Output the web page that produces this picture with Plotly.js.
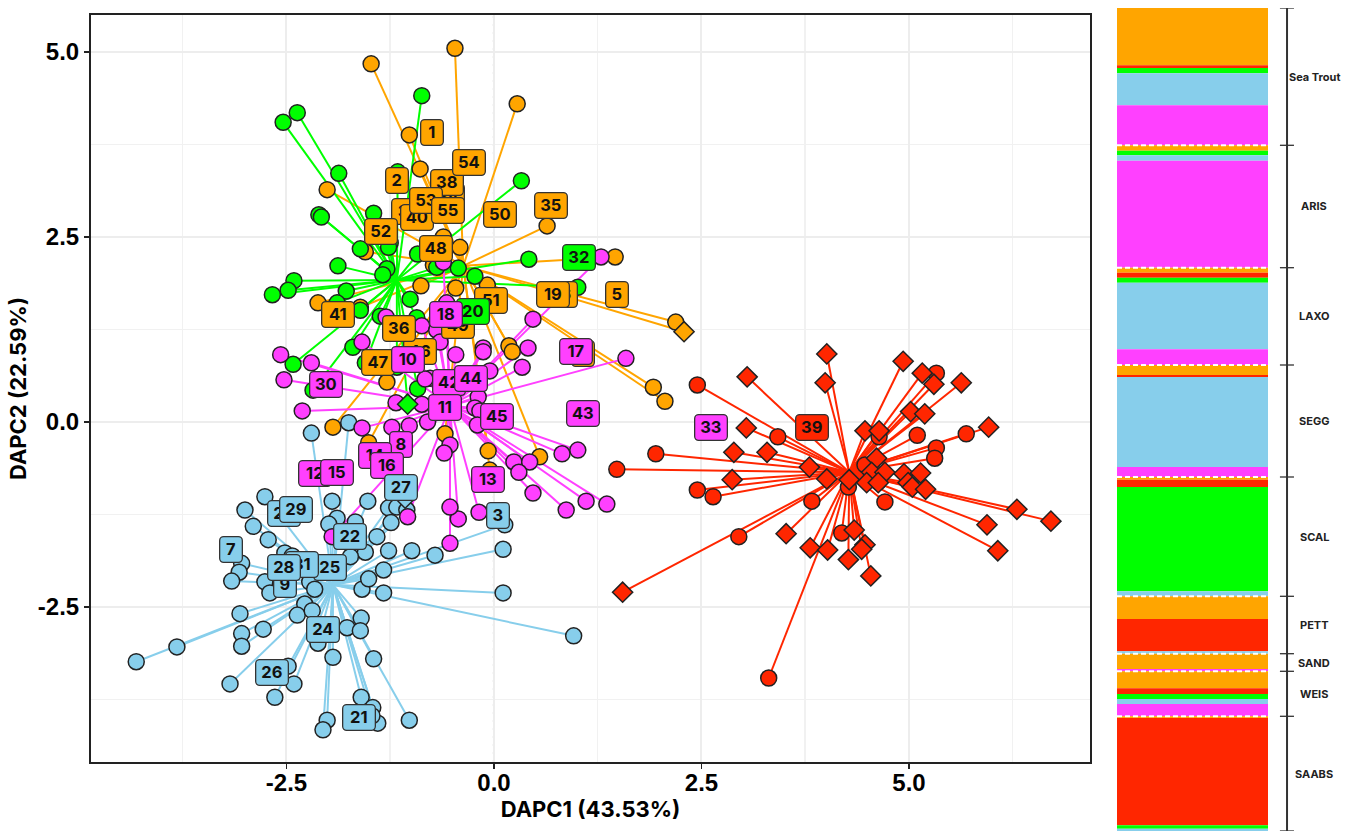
<!DOCTYPE html>
<html><head><meta charset="utf-8">
<script src="https://cdn.plot.ly/plotly-3.0.1.min.js"></script>
<style>html,body{margin:0;padding:0;background:#fff}#c{width:1354px;height:832px}</style>
</head><body><div id="c"></div>
<script>
const COLORS = {orange:'#FFA500', green:'#00FF00', blue:'#87CEEB', magenta:'#FF40FF', red:'#FF2600'};

// Cluster centroids
const orangeCentroid=[-0.37,2.11], greenCentroid=[-1.17,1.92], blueCentroid=[-1.94,-2.20], magentaCentroid=[-0.53,0.22], redCentroid=[4.28,-0.68];

// Individuals (circles)
const orangeX=[-1.48,-0.47,0.28,-1.02,-0.89,-2.01,0.64,1.46,-0.41,-1.55,-0.73,-0.88,-0.46,-0.08,-2.12,-1.61,0.18,0.22,-1.29,-1.94,-0.59,-1.51,-0.07,0.55,-0.05,1.92,2.06,2.19,-0.61];
const orangeY=[4.84,5.05,4.30,3.88,3.42,3.14,2.65,2.23,2.36,2.30,2.12,1.84,1.81,1.85,1.61,1.55,1.03,0.95,0.54,-0.07,-0.16,-0.28,-0.39,-0.47,-0.65,0.47,0.28,1.35,2.50];
const greenX=[-0.87,-2.37,-2.54,-1.87,0.33,-1.16,-1.45,-2.11,-2.08,-1.61,-1.25,-1.27,-0.92,-1.88,-1.29,-1.34,-0.43,-0.69,-0.23,0.42,1.01,-2.41,-2.48,-2.67,-1.78,-1.01,-2.42,-1.37,-0.93,-1.89,-1.70,-1.55,-0.92,-1.17,-2.18,-1.61];
const greenY=[4.41,4.18,4.05,3.36,3.26,3.38,2.82,2.80,2.77,2.34,2.42,2.36,2.27,2.11,2.07,1.99,2.08,2.09,1.97,2.20,1.82,1.91,1.78,1.72,1.77,1.66,0.78,1.43,1.41,1.61,1.01,0.80,0.45,0.74,0.43,1.51];
const blueX=[-4.31,-3.82,-2.76,-3.00,-2.90,-2.72,-3.04,-3.07,-3.16,-2.76,-2.70,-3.06,-3.04,-3.04,-2.78,-3.18,-2.64,-2.41,-2.48,-2.28,-2.37,-2.19,-2.22,-2.16,-2.12,-1.94,-1.77,-1.60,-1.61,-1.45,-1.60,-1.46,-1.40,-1.47,-2.01,-2.06,-1.02,-1.59,-1.51,-1.33,-1.33,-1.27,-0.99,-0.71,-1.41,-1.55,-1.73,-1.52,-1.27,-1.24,-1.95,-1.89,-1.99,-1.67,-1.17,-1.05,0.11,0.11,0.96,0.13,-2.20,-1.75,-2.52,-2.43];
const blueY=[-3.24,-3.04,-1.01,-1.19,-1.41,-1.59,-1.91,-2.03,-2.15,-2.16,-2.31,-2.59,-2.86,-3.03,-2.80,-3.54,-3.72,-3.54,-3.30,-2.46,-2.61,-2.55,-2.16,-2.26,-2.99,-3.18,-2.78,-2.65,-2.82,-3.20,-3.72,-3.86,-4.07,-3.97,-4.03,-4.16,-4.03,-2.26,-2.12,-2.00,-2.31,-1.74,-1.74,-1.80,-1.55,-1.76,-1.82,-1.07,-1.16,-1.36,-1.07,-1.30,-1.38,-1.35,-1.15,-1.19,-1.72,-2.31,-2.89,-1.39,-0.15,-0.01,-1.77,-1.81];
const magentaX=[1.59,0.47,1.29,-0.57,-2.57,-2.20,-2.53,-2.31,-1.59,-1.30,-0.87,-0.69,-0.65,-0.46,-0.13,-0.13,0.41,0.34,-0.05,-0.77,-0.83,-1.18,-0.87,-0.19,-0.23,-0.17,-0.20,-0.80,-1.59,-1.23,-1.02,-0.53,-0.60,0.82,1.01,0.24,0.43,0.30,0.47,1.11,1.36,0.87,-0.18,-0.43,-0.53,-1.04,-0.53,-1.95,-0.61];
const magentaY=[0.86,1.39,2.23,1.61,0.91,0.80,0.57,0.15,1.08,1.42,1.30,1.24,1.08,0.91,1.00,0.95,1.00,0.74,0.69,0.59,0.58,0.26,0.24,0.34,0.19,0.15,-0.04,0.00,-0.08,-0.07,-0.05,-0.31,-0.42,-0.43,-0.38,-0.54,-0.54,-0.68,-0.96,-1.07,-1.11,-1.19,-1.22,-1.31,-1.15,-1.28,-1.64,-1.55,2.16];
const redX=[2.45,1.95,1.48,2.45,2.64,2.95,3.31,3.42,3.83,4.19,4.27,4.64,4.47,4.71,5.10,5.33,5.31,5.69,5.33,4.63];
const redY=[0.50,-0.43,-0.64,-0.92,-1.01,-1.55,-3.46,-0.20,-1.07,-1.50,-0.88,-0.20,-0.58,-1.08,-0.18,-0.35,-0.49,-0.16,0.66,-0.81];

// Individuals (diamonds)
const redDiamondX=[4.01,3.05,3.99,4.93,5.16,5.30,5.63,5.02,5.19,5.96,3.04,2.89,3.29,2.87,3.80,4.01,4.28,4.47,4.64,4.61,4.55,4.71,4.49,4.63,4.94,5.14,4.99,5.04,5.20,6.30,6.71,5.94,6.07,3.52,3.81,4.02,4.27,4.34,4.47,4.43,4.54,1.55];
const redDiamondY=[0.92,0.61,0.53,0.82,0.66,0.51,0.53,0.14,0.11,-0.07,-0.08,-0.41,-0.41,-0.78,-0.61,-0.77,-0.78,-0.12,-0.12,-0.49,-0.68,-0.68,-0.82,-0.82,-0.70,-0.69,-0.82,-0.88,-0.91,-1.18,-1.34,-1.39,-1.74,-1.51,-1.70,-1.73,-1.86,-1.46,-1.66,-1.72,-2.08,-2.30];
const orangeDiamondX=[2.29], orangeDiamondY=[1.22];
const greenDiamondX=[-1.04], greenDiamondY=[0.24];
const blueDiamondX=[-1.07], blueDiamondY=[-1.03];

// Numbered labels, in drawing order
const labelText=['34','37','49','46','6','4','1','2','5','19','35','38','40','53','55','54','50','52','48','51','20','18','41','36','47','10','32','30','8','14','16','12','15','13','42','44','11','45','43','17','33','39','3','7','21','23','29','24','26','25','31','9','28','22','27'];
const labelX=[-0.55,-1.04,-0.43,-0.89,0.87,1.07,-0.75,-1.17,1.48,0.71,0.69,-0.57,-0.93,-0.82,-0.55,-0.30,0.07,-1.36,-0.70,-0.04,-0.25,-0.58,-1.88,-1.14,-1.40,-1.04,1.02,-2.02,-1.12,-1.43,-1.29,-2.16,-1.89,-0.07,-0.54,-0.28,-0.59,0.04,1.07,0.99,2.61,3.83,0.05,-3.17,-1.63,-2.53,-2.39,-2.06,-2.67,-1.98,-2.31,-2.52,-2.53,-1.73,-1.12];
const labelY=[3.05,2.84,1.31,0.95,1.72,0.93,3.91,3.27,1.72,1.72,2.93,3.24,2.77,2.99,2.86,3.50,2.80,2.58,2.35,1.64,1.49,1.45,1.45,1.27,0.81,0.85,2.22,0.50,-0.31,-0.45,-0.59,-0.69,-0.68,-0.78,0.53,0.59,0.20,0.07,0.12,0.95,-0.08,-0.07,-1.27,-1.72,-4.00,-1.23,-1.18,-2.81,-3.38,-1.96,-1.92,-2.20,-1.97,-1.55,-0.89];
const labelGroup=['orange','orange','orange','orange','orange','orange','orange','orange','orange','orange','orange','orange','orange','orange','orange','orange','orange','orange','orange','orange','green','magenta','orange','orange','orange','magenta','green','magenta','magenta','magenta','magenta','magenta','magenta','magenta','magenta','magenta','magenta','magenta','magenta','magenta','magenta','red','blue','blue','blue','blue','blue','blue','blue','blue','blue','blue','blue','blue','blue'];

// Composition bar: share of each population per group
const popNames=['Sea Trout','ARIS','LAXO','SEGG','SCAL','PETT','SAND','WEIS','SAABS'];
const orangeShare =[57.3,5.4,5.0,10.0,2.7,22.7,15.3,17.0,1.7];
const redShare    =[2.7,0,5.0,2.0,7.3,32.3,0,5.7,107.3];
const greenShare  =[5.3,4.6,5.0,0,104.3,0,0,5.0,3.4];
const blueShare   =[32.0,5.4,66.6,90.0,5.0,2.4,0,5.0,2.3];
const magentaShare=[40.0,107.0,15.7,10.0,0,0,2.3,12.3,0];

function spokes(c,xs,ys){const X=[],Y=[];xs.forEach((x,i)=>{X.push(c[0],x,null);Y.push(c[1],ys[i],null);});return [X,Y];}
function lineTrace(c,xs,ys,col){const [X,Y]=spokes(c,xs,ys);return {type:'scatter',mode:'lines',x:X,y:Y,line:{color:col,width:2},hoverinfo:'skip',showlegend:false,xaxis:'x',yaxis:'y'};}
function pts(xs,ys,col,sym,size){return {type:'scatter',mode:'markers',x:xs,y:ys,marker:{color:col,symbol:sym,size:size,line:{color:'#222',width:1.5}},showlegend:false,xaxis:'x',yaxis:'y'};}

const traces=[
 lineTrace(orangeCentroid,orangeX.concat(orangeDiamondX),orangeY.concat(orangeDiamondY),COLORS.orange),
 lineTrace(greenCentroid,greenX.concat(greenDiamondX),greenY.concat(greenDiamondY),COLORS.green),
 lineTrace(blueCentroid,blueX.concat(blueDiamondX),blueY.concat(blueDiamondY),COLORS.blue),
 lineTrace(magentaCentroid,magentaX,magentaY,COLORS.magenta),
 lineTrace(redCentroid,redX.concat(redDiamondX),redY.concat(redDiamondY),COLORS.red),
 pts(orangeX,orangeY,COLORS.orange,'circle',16),
 pts(greenX,greenY,COLORS.green,'circle',16),
 pts(blueX,blueY,COLORS.blue,'circle',16),
 pts(magentaX,magentaY,COLORS.magenta,'circle',16),
 pts(redX,redY,COLORS.red,'circle',16),
 pts(redDiamondX,redDiamondY,COLORS.red,'diamond',15.5),
 pts(orangeDiamondX,orangeDiamondY,COLORS.orange,'diamond',15.5),
 pts(greenDiamondX,greenDiamondY,COLORS.green,'diamond',15.5),
 pts(blueDiamondX,blueDiamondY,COLORS.blue,'diamond',15.5)
];

// Stacked composition bar
const order=[['orange',orangeShare],['red',redShare],['green',greenShare],['blue',blueShare],['magenta',magentaShare]];
const barBase=[],barH=[],barC=[],edges=[0];
let cum=0;
popNames.forEach((p,i)=>{order.forEach(([n,a])=>{if(a[i]>0){barBase.push(cum);barH.push(a[i]);barC.push(COLORS[n]);cum+=a[i];}});edges.push(cum);});
traces.push({type:'bar',x:barH.map(()=>0.5),y:barH,base:barBase,width:1,marker:{color:barC,line:{width:0}},xaxis:'x2',yaxis:'y2',showlegend:false,hoverinfo:'skip'});

const shapes=[
 {type:'line',xref:'x',yref:'paper',x0:0,x1:0,y0:70/832,y1:817/832,line:{color:'#111',width:2,dash:'2px,6px'},layer:'between'},
 {type:'line',xref:'paper',yref:'y',x0:91/1354,x1:1090/1354,y0:0,y1:0,line:{color:'#111',width:2,dash:'2px,6px'},layer:'between'},
 {type:'line',xref:'x2',yref:'y2',x0:1.126,x1:1.126,y0:0,y1:cum,line:{color:'#333',width:2}}
];
edges.forEach((e,i)=>{
 shapes.push({type:'line',xref:'x2',yref:'y2',x0:1.079,x1:1.172,y0:e,y1:e,line:{color:'#333',width:1.3}});
 if(i>0&&i<edges.length-1) shapes.push({type:'line',xref:'x2',yref:'y2',x0:0,x1:1,y0:e,y1:e,line:{color:'#fff',width:2,dash:'5px,3px'}});
});

const annotations=labelText.map((t,i)=>({
 x:labelX[i],y:labelY[i],xref:'x',yref:'y',text:'<b>'+t+'</b>',showarrow:false,
 width:t.length>1?31:21,height:24,bgcolor:COLORS[labelGroup[i]],bordercolor:'#333',borderwidth:1.3,borderpad:0,
 font:{family:'Inter, sans-serif',size:16.5,color:'#111'},xanchor:'center',yanchor:'middle',align:'center',valign:'middle'
}));
popNames.forEach((p,i)=>annotations.push({x:1.305,y:(edges[i]+edges[i+1])/2,xref:'x2',yref:'y2',text:'<b>'+p+'</b>',showarrow:false,
 font:{family:'Inter, sans-serif',size:11,color:'#222'},xanchor:'center',yanchor:'middle'}));

const tickFont={family:'Liberation Sans, Arial, sans-serif',size:24,color:'#000'};
const titleFont={family:'Inter, sans-serif',size:22,color:'#000'};
const layout={
 width:1354,height:832,margin:{l:0,r:0,t:0,b:0},paper_bgcolor:'#fff',plot_bgcolor:'#fff',showlegend:false,barmode:'overlay',
 xaxis:{domain:[91/1354,1090/1354],range:[-4.855,7.181],tickmode:'array',tickvals:[-2.5,0,2.5,5],ticktext:['<b>-2.5</b>','<b>0.0</b>','<b>2.5</b>','<b>5.0</b>'],
  tickfont:tickFont,ticks:'outside',ticklen:5,tickwidth:1.5,tickcolor:'#222',showline:true,linecolor:'#222',linewidth:2,mirror:true,zeroline:false,ticklabelstandoff:-7,
  showgrid:true,gridcolor:'#ededed',gridwidth:2,minor:{tickvals:[-3.75,-1.25,1.25,3.75,6.25],showgrid:true,gridcolor:'#f1f1f1',gridwidth:1.5,ticks:''},
  title:{text:'<b>DAPC1 (43.53%)</b>',font:titleFont,standoff:2},anchor:'y'},
 yaxis:{domain:[70/832,817/832],range:[-4.595,5.5],tickmode:'array',tickvals:[-2.5,0,2.5,5],ticktext:['<b>-2.5</b>','<b>0.0</b>','<b>2.5</b>','<b>5.0</b>'],
  tickfont:tickFont,ticks:'outside',ticklen:5,tickwidth:1.5,tickcolor:'#222',showline:true,linecolor:'#222',linewidth:2,mirror:true,zeroline:false,
  showgrid:true,gridcolor:'#ededed',gridwidth:2,minor:{tickvals:[-3.75,-1.25,1.25,3.75],showgrid:true,gridcolor:'#f1f1f1',gridwidth:1.5,ticks:''},
  title:{text:'<b>DAPC2 (22.59%)</b>',font:titleFont,standoff:5},anchor:'x'},
 xaxis2:{domain:[1117/1354,1],range:[0,237/151],visible:false,fixedrange:true,anchor:'y2'},
 yaxis2:{domain:[1/832,824/832],range:[823,0],visible:false,fixedrange:true,anchor:'x2'},
 shapes,annotations
};
Plotly.newPlot('c',traces,layout,{displayModeBar:false,staticPlot:true}).then(()=>{
 document.querySelectorAll('.annotation rect.bg').forEach(r=>{r.setAttribute('rx','4');r.setAttribute('ry','4');});
});
</script></body></html>
